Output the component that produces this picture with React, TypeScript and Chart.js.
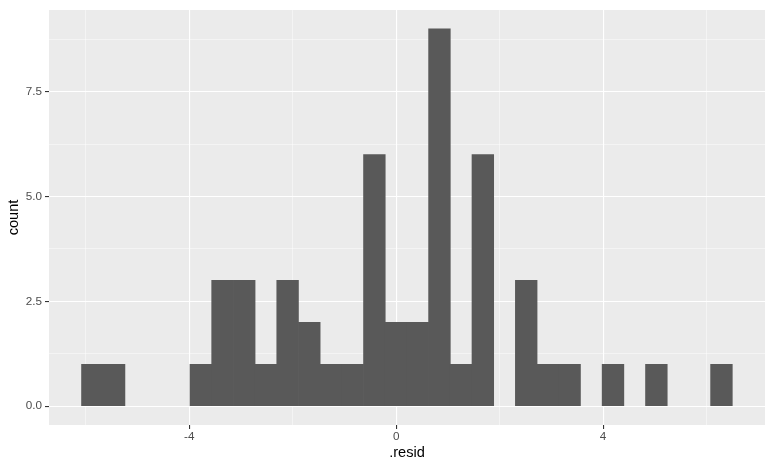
import React, { useEffect, useRef } from "react";
import { Chart, registerables } from "chart.js";

Chart.register(...registerables);

// Histogram bins (30 bins)
const binStart = -6.081;
const binWidth = 0.4193;
const counts = [1, 1, 0, 0, 0, 1, 3, 3, 1, 3, 2, 1, 1, 6, 2, 2, 9, 1, 6, 0, 3, 1, 1, 0, 1, 0, 1, 0, 0, 1];
const xTicks = [-6, -4, -2, 0, 2, 4, 6];
const xMajor = [-4, 0, 4];
const yTicks = [0, 1.25, 2.5, 3.75, 5, 6.25, 7.5, 8.75];
const yMajor = [0, 2.5, 5, 7.5];
const xTitle = ".resid";
const yTitle = "count";

const FONT = "'Liberation Sans', Arial, Helvetica, sans-serif";

const panelBg = {
  id: "panelBg",
  beforeDraw(chart: any) {
    const { ctx, chartArea } = chart;
    ctx.save();
    ctx.fillStyle = "#EBEBEB";
    ctx.fillRect(chartArea.left, chartArea.top, chartArea.right - chartArea.left, chartArea.bottom - chartArea.top);
    ctx.restore();
  },
};

export default function App() {
  const ref = useRef<HTMLCanvasElement | null>(null);
  useEffect(() => {
    if (!ref.current) return;
    const data = counts.map((c, i) => ({ x: binStart + binWidth * (i + 0.5), y: c === 0 ? null : c }));
    const isMajorX = (v: number) => xMajor.some((m) => Math.abs(m - v) < 1e-9);
    const isMajorY = (v: number) => yMajor.some((m) => Math.abs(m - v) < 1e-9);
    const chart = new Chart(ref.current, {
      type: "bar",
      data: {
        datasets: [
          {
            data,
            backgroundColor: "#595959",
            borderWidth: 0,
            barPercentage: 1,
            categoryPercentage: 1,
          } as any,
        ],
      },
      plugins: [panelBg],
      options: {
        animation: false,
        responsive: false,
        devicePixelRatio: 1,
        layout: { padding: { left: 0, right: 7, top: 5, bottom: 0 } },
        plugins: { legend: { display: false }, tooltip: { enabled: false } },
        scales: {
          x: {
            type: "linear",
            min: -6.71,
            max: 7.13,
            offset: false,
            border: { display: false },
            grid: {
              offset: false,
              drawTicks: true,
              tickLength: 4,
              color: (c: any) => (c.tick && isMajorX(c.tick.value) ? "#FFFFFF" : "rgba(255,255,255,0.75)"),
              lineWidth: (c: any) => (c.tick && isMajorX(c.tick.value) ? 1.1 : 0.6),
              tickColor: (c: any) => (c.tick && isMajorX(c.tick.value) ? "#333333" : "rgba(0,0,0,0)"),
              tickWidth: 1.1,
            } as any,
            afterBuildTicks: (s: any) => {
              s.ticks = xTicks.map((v) => ({ value: v }));
            },
            afterFit: (s: any) => {
              s.height = 44;
            },
            ticks: {
              autoSkip: false,
              maxRotation: 0,
              padding: 1,
              color: "#4D4D4D",
              font: { family: FONT, size: 11.7 },
              callback: (v: any) => (isMajorX(Number(v)) ? String(v) : ""),
            },
            title: {
              display: true,
              text: xTitle,
              color: "#000000",
              font: { family: FONT, size: 14.6 },
              padding: { top: 0, bottom: 7 },
            },
          },
          y: {
            type: "linear",
            min: -0.45,
            max: 9.45,
            border: { display: false },
            grid: {
              drawTicks: true,
              tickLength: 4,
              color: (c: any) => (c.tick && isMajorY(c.tick.value) ? "#FFFFFF" : "rgba(255,255,255,0.75)"),
              lineWidth: (c: any) => (c.tick && isMajorY(c.tick.value) ? 1.1 : 0.6),
              tickColor: (c: any) => (c.tick && isMajorY(c.tick.value) ? "#333333" : "rgba(0,0,0,0)"),
              tickWidth: 1.1,
            } as any,
            afterBuildTicks: (s: any) => {
              s.ticks = yTicks.map((v) => ({ value: v }));
            },
            afterFit: (s: any) => {
              s.width = 49;
            },
            ticks: {
              autoSkip: false,
              padding: 3,
              color: "#4D4D4D",
              font: { family: FONT, size: 11.7 },
              callback: (v: any) => (isMajorY(Number(v)) ? Number(v).toFixed(1) : ""),
            },
            title: {
              display: true,
              text: yTitle,
              color: "#000000",
              font: { family: FONT, size: 14.6 },
              padding: { top: 5, bottom: 0 },
            },
          },
        },
      } as any,
    });
    return () => chart.destroy();
  }, []);
  return (
    <div style={{ position: "absolute", left: 0, top: 0, width: 772, height: 469, background: "#FFFFFF" }}>
      <canvas ref={ref} width={772} height={469} style={{ width: 772, height: 469, display: "block" }} />
    </div>
  );
}
